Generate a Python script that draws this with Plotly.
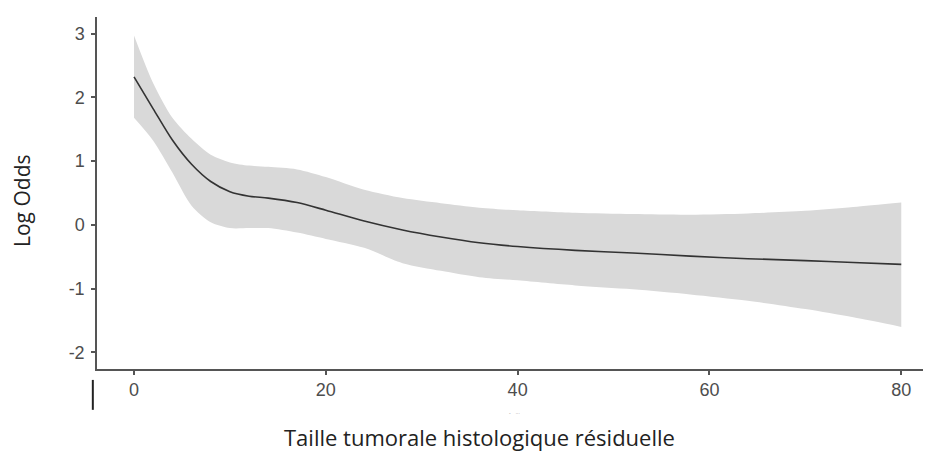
import plotly.graph_objects as go

# Estimated fit and confidence band
taille = [0, 2, 4, 6, 8, 10, 12, 14, 17, 20, 24, 28, 32, 36, 40, 46, 52, 58, 64, 70, 75, 80]
log_odds = [2.32, 1.82, 1.33, 0.95, 0.68, 0.52, 0.45, 0.42, 0.35, 0.23, 0.06, -0.08,
            -0.19, -0.28, -0.34, -0.40, -0.44, -0.49, -0.53, -0.56, -0.59, -0.62]
upper = [2.97, 2.22, 1.68, 1.35, 1.10, 0.98, 0.93, 0.91, 0.87, 0.75, 0.55, 0.42,
         0.34, 0.27, 0.23, 0.19, 0.17, 0.16, 0.18, 0.22, 0.28, 0.35]
lower = [1.68, 1.32, 0.82, 0.30, 0.04, -0.05, -0.05, -0.05, -0.12, -0.22, -0.36, -0.60,
         -0.72, -0.82, -0.87, -0.95, -1.01, -1.09, -1.19, -1.32, -1.45, -1.60]

x_ticks = [0, 20, 40, 60, 80]
x_tick_labels = ["0", "20", "40", "60", "80"]
y_ticks = [-2, -1, 0, 1, 2, 3]
y_tick_labels = ["-2", "-1", "0", "1", "2", "3"]

fig = go.Figure()

# Confidence band (upper edge, then lower edge filled up to it)
fig.add_trace(go.Scatter(
    x=taille, y=upper, mode="lines",
    line=dict(color="rgba(0,0,0,0)", width=0, shape="spline", smoothing=0.8),
    hoverinfo="skip", showlegend=False,
))
fig.add_trace(go.Scatter(
    x=taille, y=lower, mode="lines",
    fill="tonexty", fillcolor="#d9d9d9",
    line=dict(color="rgba(0,0,0,0)", width=0, shape="spline", smoothing=0.8),
    hoverinfo="skip", showlegend=False,
))

# Fitted curve
fig.add_trace(go.Scatter(
    x=taille, y=log_odds,
    mode="lines",
    line=dict(color="#333333", width=1.6, shape="spline", smoothing=0.8),
    showlegend=False,
))

tick_font = dict(family="Liberation Sans, Arial, sans-serif", size=18, color="#4d4d4d")

fig.update_xaxes(
    range=[-3.86, 83.1],
    tickvals=x_ticks, ticktext=x_tick_labels,
    showline=True, linecolor="#555555", linewidth=1.5,
    ticks="outside", ticklen=4, tickcolor="#555555", tickwidth=1.5,
    showgrid=False, zeroline=False,
    tickfont=tick_font,
)
fig.update_yaxes(
    range=[-2.26, 3.26],
    tickvals=y_ticks, ticktext=y_tick_labels,
    showline=True, linecolor="#555555", linewidth=1.5,
    ticks="outside", ticklen=4, tickcolor="#555555", tickwidth=1.5,
    ticklabelstandoff=3,
    showgrid=False, zeroline=False,
    tickfont=tick_font,
)

# axis titles placed as in the reference
fig.add_annotation(
    text="Log Odds", textangle=-90,
    xref="paper", yref="paper", x=-0.09, y=0.48,
    xanchor="center", yanchor="middle",
    showarrow=False,
    font=dict(family="Open Sans, sans-serif", size=21, color="#222222"),
)
fig.add_annotation(
    text="Taille tumorale histologique résiduelle",
    xref="paper", yref="paper", x=0.459, y=-0.192,
    xanchor="center", yanchor="middle",
    showarrow=False,
    font=dict(family="Open Sans, sans-serif", size=22, color="#222222"),
)

# small stray marks present in the original picture
fig.add_shape(type="line", xref="paper", yref="paper",
              x0=-0.005, x1=-0.005, y0=-0.031, y1=-0.116,
              line=dict(color="#222222", width=2))
fig.add_annotation(
    text="-    ···", xref="paper", yref="paper", x=0.5, y=-0.124,
    xanchor="center", yanchor="middle",
    showarrow=False, font=dict(size=5, color="#888888"),
)

# page body has an 8px margin, so the figure is shrunk by that amount
fig.update_layout(
    width=923, height=446,
    margin=dict(l=89, r=0, t=9, b=85),
    plot_bgcolor="white",
    paper_bgcolor="white",
)

fig.write_html("out.html")
